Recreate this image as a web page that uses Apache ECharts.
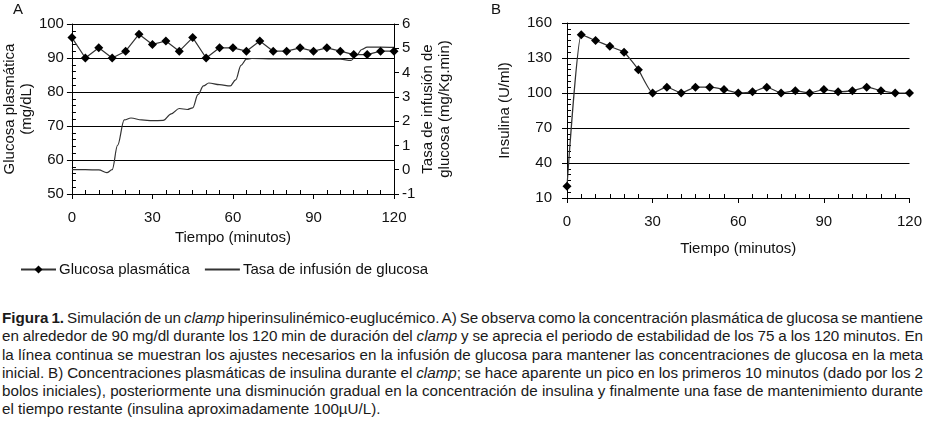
<!DOCTYPE html>
<html><head><meta charset="utf-8">
<script src="https://cdn.jsdelivr.net/npm/echarts@6/dist/echarts.min.js"></script>
<style>
html,body{margin:0;padding:0;background:#fff;}
#c{position:absolute;left:0;top:0;width:925px;height:300px;}
#cap{position:absolute;left:2px;top:309px;width:921px;font-family:Arial,"Liberation Sans",sans-serif;font-size:15.2px;line-height:18.3px;color:#1a1a1a;word-spacing:-1.3px;}
#cap div{text-align:justify;text-align-last:justify;white-space:nowrap;}
#cap div.last{text-align-last:left;word-spacing:0;}
</style></head>
<body>
<div id="c"></div>
<div id="cap">
<div><b>Figura 1.</b> Simulación de un <i>clamp</i> hiperinsulinémico-euglucémico. A) Se observa como la concentración plasmática de glucosa se mantiene</div>
<div>en alrededor de 90 mg/dl durante los 120 min de duración del <i>clamp</i> y se aprecia el periodo de estabilidad de los 75 a los 120 minutos. En</div>
<div>la línea continua se muestran los ajustes necesarios en la infusión de glucosa para mantener las concentraciones de glucosa en la meta</div>
<div>inicial. B) Concentraciones plasmáticas de insulina durante el <i>clamp</i>; se hace aparente un pico en los primeros 10 minutos (dado por los 2</div>
<div>bolos iniciales), posteriormente una disminución gradual en la concentración de insulina y finalmente una fase de mantenimiento durante</div>
<div class="last">el tiempo restante (insulina aproximadamente 100µU/L).</div>
</div>
<script>
// Sampling times (minutes)
const sampleTimes = [0,5,10,15,20,25,30,35,40,45,50,55,60,65,70,75,80,85,90,95,100,105,110,115,120];
// Panel A: plasma glucose (mg/dL)
const glucose = [96,90,93,90,92,97,94,95,92,96,90,93,93,92,95,92,92,93,92,93,92,91,91,92,92];
// Panel A: glucose infusion rate (mg/Kg.min)
const infusionTime = [0,5,10,13,15,17,19.5,22,26,30,34,37,40,43,45,47,49,51,55,59,61,63,65,67,75,85,95,100,104,106,108,110,115,120];
const infusionRate = [0,0,-0.01,-0.12,0.0,1.0,2.05,2.13,2.05,2.02,2.03,2.3,2.52,2.48,2.55,3.1,3.45,3.57,3.5,3.45,3.7,4.3,4.55,4.58,4.56,4.56,4.55,4.55,4.5,4.7,4.95,5.05,5.05,5.04];
// Panel B: insulin (U/ml)
const insulin = [20,150,145,140,135,120,100,105,100,105,105,103,100,101,105,100,102,100,103,101,102,105,102,100,100];
// Tick labels / axis ranges
const glucoseTicks = {min:50,max:100,step:10,minorSplit:5};
const rateTicks = {min:-1,max:6,step:1};
const insulinTicks = {min:10,max:160,step:30,minorSplit:6};
const timeTicks = {min:0,max:120,step:30,minorSplit:6};

const FONT = 'Arial, "Liberation Sans", sans-serif';
const TXT = '#111';
const pair = (xs, ys) => xs.map((x,i)=>[x,ys[i]]);
const minor = n => ({show:true,splitNumber:n,length:-4,lineStyle:{color:'#000',width:1}});
const majorTick = {show:true,inside:false,length:5,lineStyle:{color:'#000',width:1}};

function mainX(grid){
  return {type:'value',gridIndex:grid,min:timeTicks.min,max:timeTicks.max,interval:timeTicks.step,
    name:'Tiempo (minutos)',nameLocation:'middle',nameGap:grid===0?36:43,
    nameTextStyle:{fontFamily:FONT,fontSize:15,color:TXT},
    axisLine:{show:true,onZero:false,lineStyle:{color:'#000',width:1}},
    axisTick:majorTick,
    minorTick:minor(timeTicks.minorSplit),
    axisLabel:{fontFamily:FONT,fontSize:15,color:TXT,margin:16},
    splitLine:{show:false},minorSplitLine:{show:false}};
}

const option = {
  animation:false,
  textStyle:{fontFamily:FONT},
  grid:[
    {left:68,top:24,width:326,height:170},
    {left:567,top:23,width:346,height:175}
  ],
  legend:{left:20,top:262,padding:0,itemWidth:35,itemHeight:10,itemGap:14,
    textStyle:{fontFamily:FONT,fontSize:15,color:TXT,padding:[0,0,0,-2]},
    data:[{name:'Glucosa plasmática'},{name:'Tasa de infusión de glucosa',itemStyle:{opacity:0}}]},
  graphic:[
    {type:'text',left:13,top:2,style:{text:'A',fontFamily:FONT,fontSize:15,fill:TXT}},
    {type:'text',left:491,top:2,style:{text:'B',fontFamily:FONT,fontSize:15,fill:TXT}}
  ],
  xAxis:[mainX(0),mainX(1)],
  yAxis:[
    {type:'value',gridIndex:0,position:'left',min:glucoseTicks.min,max:glucoseTicks.max,interval:glucoseTicks.step,
      name:'Glucosa plasmática\n(mg/dL)',nameLocation:'middle',nameRotate:90,nameGap:27,
      nameTextStyle:{fontFamily:FONT,fontSize:15,color:TXT,lineHeight:17},
      axisLine:{show:true,lineStyle:{color:'#000'}},axisTick:majorTick,
      minorTick:minor(glucoseTicks.minorSplit),
      axisLabel:{fontFamily:FONT,fontSize:15,color:TXT,margin:8},
      splitLine:{show:true,lineStyle:{color:'#000',width:1}},minorSplitLine:{show:false}},
    {type:'value',gridIndex:0,position:'right',min:rateTicks.min,max:rateTicks.max,interval:rateTicks.step,
      name:'Tasa de infusión de\nglucosa (mg/Kg.min)',nameLocation:'middle',nameRotate:90,nameGap:21,
      nameTextStyle:{fontFamily:FONT,fontSize:15,color:TXT,lineHeight:17},
      axisLine:{show:true,lineStyle:{color:'#000'}},axisTick:majorTick,
      axisLabel:{fontFamily:FONT,fontSize:15,color:TXT,margin:8},
      splitLine:{show:false}},
    {type:'value',gridIndex:1,position:'left',min:insulinTicks.min,max:insulinTicks.max,interval:insulinTicks.step,
      name:'Insulina (U/ml)',nameLocation:'middle',nameRotate:90,nameGap:55,
      nameTextStyle:{fontFamily:FONT,fontSize:15,color:TXT},
      axisLine:{show:true,lineStyle:{color:'#000'}},axisTick:majorTick,
      minorTick:minor(insulinTicks.minorSplit),
      axisLabel:{fontFamily:FONT,fontSize:15,color:TXT,margin:15},
      splitLine:{show:true,lineStyle:{color:'#000',width:1}},minorSplitLine:{show:false}}
  ],
  series:[
    {name:'Glucosa plasmática',type:'line',xAxisIndex:0,yAxisIndex:0,data:pair(sampleTimes,glucose),
      symbol:'diamond',symbolSize:9,itemStyle:{color:'#000'},lineStyle:{color:'#333',width:1.2},z:5},
    {name:'Tasa de infusión de glucosa',type:'line',xAxisIndex:0,yAxisIndex:1,data:pair(infusionTime,infusionRate),
      symbol:'none',smooth:0.35,smoothMonotone:'x',itemStyle:{color:'#000'},lineStyle:{color:'#333',width:1.2},z:4},
    {name:'Insulina',type:'line',xAxisIndex:1,yAxisIndex:2,data:pair(sampleTimes,insulin),
      symbol:'diamond',symbolSize:9,smooth:0.15,itemStyle:{color:'#000'},lineStyle:{color:'#333',width:1.2},z:5}
  ]
};
const chart = echarts.init(document.getElementById('c'),null,{renderer:'canvas'});
chart.setOption(option);
</script>
</body></html>
